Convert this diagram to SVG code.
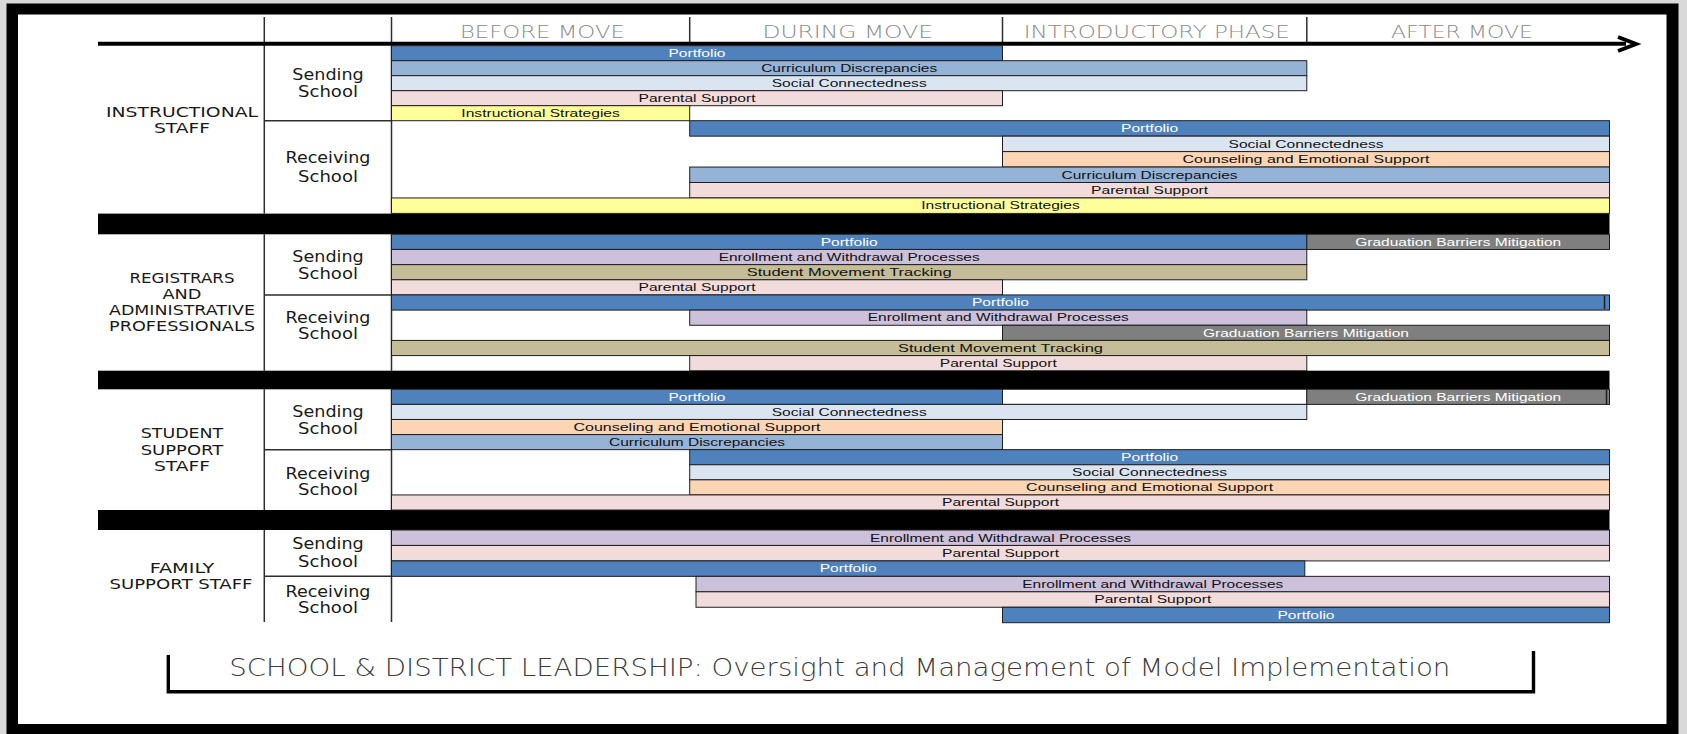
<svg xmlns="http://www.w3.org/2000/svg" width="1687" height="734" viewBox="0 0 1687 734">
<style>
.bar{stroke:#1e1e1e;stroke-width:1}
.pf{fill:#4f81bd}.cd{fill:#95b3d7}.sc{fill:#dbe5f1}.ps{fill:#f2dcdb}.is{fill:#ffff99}.ce{fill:#fcd5b4}.gb{fill:#7f7f7f}.ew{fill:#ccc0da}.sm{fill:#c4bd97}.em{fill:#ffffff}
.t{font-family:"Liberation Sans",Arial,sans-serif;font-size:11.5px;text-anchor:middle;fill:#111}
.w{fill:#ffffff}
.lbl{font-family:"DejaVu Sans","Liberation Sans",sans-serif;font-size:14.5px;text-anchor:middle;fill:#1a1a1a}
.sch{font-size:15px}
.hdr{font-family:"DejaVu Sans","Liberation Sans",sans-serif;font-size:18px;font-weight:200;text-anchor:middle;fill:#8a8a8a}
.foot{font-family:"DejaVu Sans","Liberation Sans",sans-serif;font-size:24px;font-weight:300;fill:#3c3c3c}
.grid{stroke:#2e2e2e;stroke-width:1.5;fill:none}
.band{fill:#000}
</style>
<defs>
<marker id="chev" markerWidth="10" markerHeight="10" refX="8" refY="5" orient="auto" markerUnits="userSpaceOnUse" viewBox="0 0 10 10">
<path d="M0,0 L9,5 L0,10" fill="none" stroke="#000" stroke-width="2.2"/>
</marker>
</defs>
<rect x="0" y="0" width="1687" height="734" fill="#d9d9d9"/>
<rect x="6.5" y="3.5" width="1672" height="731" fill="#000"/>
<rect x="18" y="14.5" width="1648.5" height="709.5" fill="#ffffff"/>

<g id="grid">
<path class="grid" d="M264.3,17V213.6M264.3,234.3V370.7M264.3,389.3V510M264.3,530V622"/>
<path class="grid" d="M391.5,17V213.6M391.5,234.3V370.7M391.5,389.3V510M391.5,530V622"/>
<path class="grid" d="M689.7,17V43M1002.5,17V43M1306.8,17V43"/>
<path class="grid" d="M264.3,120.7H391.5M264.3,294.9H391.5M264.3,449.7H391.5M264.3,576.35H391.5"/>
<rect class="band" x="98" y="213.6" width="1511.5" height="20.7"/>
<rect class="band" x="98" y="370.7" width="1511.5" height="18.6"/>
<rect class="band" x="98" y="510" width="1511.5" height="20"/>
</g>

<g id="connectors">
<line x1="98" y1="43.8" x2="1626" y2="43.8" stroke="#000" stroke-width="4"/>
<path d="M1618,37 L1636,44 L1618,51" fill="none" stroke="#000" stroke-width="4" stroke-linejoin="miter"/>
</g>

<g id="phase-headers">
<text class="hdr" x="542.4" y="38.3" textLength="165" lengthAdjust="spacingAndGlyphs">BEFORE MOVE</text>
<text class="hdr" x="847.7" y="38.3" textLength="170.6" lengthAdjust="spacingAndGlyphs">DURING MOVE</text>
<text class="hdr" x="1156.8" y="38.3" textLength="266" lengthAdjust="spacingAndGlyphs">INTRODUCTORY PHASE</text>
<text class="hdr" x="1461.9" y="38.3" textLength="142" lengthAdjust="spacingAndGlyphs">AFTER MOVE</text>
</g>

<g id="group-instructional">
<text class="lbl" x="182" y="116.7" textLength="152" lengthAdjust="spacingAndGlyphs">INSTRUCTIONAL</text>
<text class="lbl" x="182" y="133.3" textLength="56" lengthAdjust="spacingAndGlyphs">STAFF</text>
</g>
<g id="group-registrars">
<text class="lbl" x="182" y="282.7" textLength="105" lengthAdjust="spacingAndGlyphs">REGISTRARS</text>
<text class="lbl" x="182" y="298.7" textLength="39" lengthAdjust="spacingAndGlyphs">AND</text>
<text class="lbl" x="182" y="314.5" textLength="146" lengthAdjust="spacingAndGlyphs">ADMINISTRATIVE</text>
<text class="lbl" x="182" y="330.7" textLength="146" lengthAdjust="spacingAndGlyphs">PROFESSIONALS</text>
</g>
<g id="group-student-support">
<text class="lbl" x="182" y="438.3" textLength="82.6" lengthAdjust="spacingAndGlyphs">STUDENT</text>
<text class="lbl" x="182" y="455" textLength="82.6" lengthAdjust="spacingAndGlyphs">SUPPORT</text>
<text class="lbl" x="182" y="471" textLength="56" lengthAdjust="spacingAndGlyphs">STAFF</text>
</g>
<g id="group-family-support">
<text class="lbl" x="182" y="573.3" textLength="64.7" lengthAdjust="spacingAndGlyphs">FAMILY</text>
<text class="lbl" x="181" y="589.3" textLength="143" lengthAdjust="spacingAndGlyphs">SUPPORT STAFF</text>
</g>

<g id="s1-sending-label"><text class="lbl sch" x="328" y="80.3" textLength="71.4" lengthAdjust="spacingAndGlyphs">Sending</text><text class="lbl sch" x="328" y="97.3" textLength="60" lengthAdjust="spacingAndGlyphs">School</text></g>
<g id="s1-receiving-label"><text class="lbl sch" x="328" y="162.7" textLength="85" lengthAdjust="spacingAndGlyphs">Receiving</text><text class="lbl sch" x="328" y="181.5" textLength="60" lengthAdjust="spacingAndGlyphs">School</text></g>
<g id="s2-sending-label"><text class="lbl sch" x="328" y="261.7" textLength="71.4" lengthAdjust="spacingAndGlyphs">Sending</text><text class="lbl sch" x="328" y="279.3" textLength="60" lengthAdjust="spacingAndGlyphs">School</text></g>
<g id="s2-receiving-label"><text class="lbl sch" x="328" y="322.7" textLength="85" lengthAdjust="spacingAndGlyphs">Receiving</text><text class="lbl sch" x="328" y="339.3" textLength="60" lengthAdjust="spacingAndGlyphs">School</text></g>
<g id="s3-sending-label"><text class="lbl sch" x="328" y="417" textLength="71.4" lengthAdjust="spacingAndGlyphs">Sending</text><text class="lbl sch" x="328" y="433.7" textLength="60" lengthAdjust="spacingAndGlyphs">School</text></g>
<g id="s3-receiving-label"><text class="lbl sch" x="328" y="478.7" textLength="85" lengthAdjust="spacingAndGlyphs">Receiving</text><text class="lbl sch" x="328" y="495" textLength="60" lengthAdjust="spacingAndGlyphs">School</text></g>
<g id="s4-sending-label"><text class="lbl sch" x="328" y="549.3" textLength="71.4" lengthAdjust="spacingAndGlyphs">Sending</text><text class="lbl sch" x="328" y="566.7" textLength="60" lengthAdjust="spacingAndGlyphs">School</text></g>
<g id="s4-receiving-label"><text class="lbl sch" x="328" y="596.7" textLength="85" lengthAdjust="spacingAndGlyphs">Receiving</text><text class="lbl sch" x="328" y="613.3" textLength="60" lengthAdjust="spacingAndGlyphs">School</text></g>

<!-- Section 1: Instructional staff -->
<g id="s1-send-portfolio"><rect class="bar pf" x="391.5" y="45.7" width="611" height="15"/><text class="t w" x="697" y="57" textLength="57" lengthAdjust="spacingAndGlyphs">Portfolio</text></g>
<g id="s1-send-curriculum"><rect class="bar cd" x="391.5" y="60.7" width="915.3" height="15"/><text class="t" x="849.2" y="72" textLength="176" lengthAdjust="spacingAndGlyphs">Curriculum Discrepancies</text></g>
<g id="s1-send-social"><rect class="bar sc" x="391.5" y="75.7" width="915.3" height="15"/><text class="t" x="849.2" y="87" textLength="155" lengthAdjust="spacingAndGlyphs">Social Connectedness</text></g>
<g id="s1-send-parental"><rect class="bar ps" x="391.5" y="90.7" width="611" height="15"/><text class="t" x="697" y="102" textLength="117" lengthAdjust="spacingAndGlyphs">Parental Support</text></g>
<g id="s1-send-instructional"><rect class="bar is" x="391.5" y="105.7" width="298.2" height="15"/><text class="t" x="540.6" y="117" textLength="158.5" lengthAdjust="spacingAndGlyphs">Instructional Strategies</text></g>
<g id="s1-recv-portfolio"><rect class="bar pf" x="689.7" y="120.7" width="919.8" height="15.45"/><text class="t w" x="1149.6" y="132.2" textLength="57" lengthAdjust="spacingAndGlyphs">Portfolio</text></g>
<g id="s1-recv-social"><rect class="bar sc" x="1002.5" y="136.15" width="607" height="15.45"/><text class="t" x="1306" y="147.6" textLength="155" lengthAdjust="spacingAndGlyphs">Social Connectedness</text></g>
<g id="s1-recv-counseling"><rect class="bar ce" x="1002.5" y="151.6" width="607" height="15.45"/><text class="t" x="1306" y="163.1" textLength="247" lengthAdjust="spacingAndGlyphs">Counseling and Emotional Support</text></g>
<g id="s1-recv-curriculum"><rect class="bar cd" x="689.7" y="167.05" width="919.8" height="15.45"/><text class="t" x="1149.6" y="178.5" textLength="176" lengthAdjust="spacingAndGlyphs">Curriculum Discrepancies</text></g>
<g id="s1-recv-parental"><rect class="bar ps" x="689.7" y="182.5" width="919.8" height="15.45"/><text class="t" x="1149.6" y="194" textLength="117" lengthAdjust="spacingAndGlyphs">Parental Support</text></g>
<g id="s1-recv-instructional"><rect class="bar is" x="391.5" y="197.95" width="1218" height="15.45"/><text class="t" x="1000.5" y="209.4" textLength="158.5" lengthAdjust="spacingAndGlyphs">Instructional Strategies</text></g>

<!-- Section 2: Registrars -->
<g id="s2-send-portfolio"><rect class="bar pf" x="391.5" y="234.3" width="915.3" height="15.16"/><text class="t w" x="849.2" y="245.6" textLength="57" lengthAdjust="spacingAndGlyphs">Portfolio</text></g>
<g id="s2-send-graduation"><rect class="bar gb" x="1306.8" y="234.3" width="302.7" height="15.16"/><text class="t w" x="1458.2" y="245.6" textLength="206" lengthAdjust="spacingAndGlyphs">Graduation Barriers Mitigation</text></g>
<g id="s2-send-enrollment"><rect class="bar ew" x="391.5" y="249.46" width="915.3" height="15.16"/><text class="t" x="849.2" y="260.8" textLength="261" lengthAdjust="spacingAndGlyphs">Enrollment and Withdrawal Processes</text></g>
<g id="s2-send-tracking"><rect class="bar sm" x="391.5" y="264.62" width="915.3" height="15.16"/><text class="t" x="849.2" y="275.9" textLength="205" lengthAdjust="spacingAndGlyphs">Student Movement Tracking</text></g>
<g id="s2-send-parental"><rect class="bar ps" x="391.5" y="279.78" width="611" height="15.16"/><text class="t" x="697" y="291.1" textLength="117" lengthAdjust="spacingAndGlyphs">Parental Support</text></g>
<g id="s2-recv-portfolio"><rect class="bar pf" x="391.5" y="294.94" width="1218" height="15.16"/><line x1="1604.5" y1="295.5" x2="1604.5" y2="309" stroke="#1e1e1e" stroke-width="1.5"/><text class="t w" x="1000.5" y="306.2" textLength="57" lengthAdjust="spacingAndGlyphs">Portfolio</text></g>
<g id="s2-recv-enrollment"><rect class="bar ew" x="689.7" y="310.1" width="617.1" height="15.16"/><text class="t" x="998.3" y="321.4" textLength="261" lengthAdjust="spacingAndGlyphs">Enrollment and Withdrawal Processes</text></g>
<g id="s2-recv-graduation"><rect class="bar gb" x="1002.5" y="325.26" width="607" height="15.16"/><text class="t w" x="1306" y="336.6" textLength="206" lengthAdjust="spacingAndGlyphs">Graduation Barriers Mitigation</text></g>
<g id="s2-recv-tracking"><rect class="bar sm" x="391.5" y="340.42" width="1218" height="15.16"/><text class="t" x="1000.5" y="351.7" textLength="205" lengthAdjust="spacingAndGlyphs">Student Movement Tracking</text></g>
<g id="s2-recv-parental"><rect class="bar ps" x="689.7" y="355.58" width="617.1" height="15.16"/><text class="t" x="998.3" y="366.9" textLength="117" lengthAdjust="spacingAndGlyphs">Parental Support</text></g>

<!-- Section 3: Student support staff -->
<g id="s3-send-portfolio"><rect class="bar pf" x="391.5" y="389.3" width="611" height="15.09"/><text class="t w" x="697" y="400.6" textLength="57" lengthAdjust="spacingAndGlyphs">Portfolio</text></g>
<rect class="bar em" x="1002.5" y="389.3" width="304.3" height="15.09"/>
<g id="s3-send-graduation"><rect class="bar gb" x="1306.8" y="389.3" width="302.7" height="15.09"/><line x1="1606.5" y1="390" x2="1606.5" y2="404" stroke="#1e1e1e" stroke-width="1.5"/><text class="t w" x="1458.2" y="400.6" textLength="206" lengthAdjust="spacingAndGlyphs">Graduation Barriers Mitigation</text></g>
<g id="s3-send-social"><rect class="bar sc" x="391.5" y="404.39" width="915.3" height="15.09"/><text class="t" x="849.2" y="415.7" textLength="155" lengthAdjust="spacingAndGlyphs">Social Connectedness</text></g>
<g id="s3-send-counseling"><rect class="bar ce" x="391.5" y="419.48" width="611" height="15.09"/><text class="t" x="697" y="430.8" textLength="247" lengthAdjust="spacingAndGlyphs">Counseling and Emotional Support</text></g>
<g id="s3-send-curriculum"><rect class="bar cd" x="391.5" y="434.57" width="611" height="15.09"/><text class="t" x="697" y="445.9" textLength="176" lengthAdjust="spacingAndGlyphs">Curriculum Discrepancies</text></g>
<g id="s3-recv-portfolio"><rect class="bar pf" x="689.7" y="449.66" width="919.8" height="15.09"/><text class="t w" x="1149.6" y="461" textLength="57" lengthAdjust="spacingAndGlyphs">Portfolio</text></g>
<g id="s3-recv-social"><rect class="bar sc" x="689.7" y="464.75" width="919.8" height="15.09"/><text class="t" x="1149.6" y="476.1" textLength="155" lengthAdjust="spacingAndGlyphs">Social Connectedness</text></g>
<g id="s3-recv-counseling"><rect class="bar ce" x="689.7" y="479.84" width="919.8" height="15.09"/><text class="t" x="1149.6" y="491.2" textLength="247" lengthAdjust="spacingAndGlyphs">Counseling and Emotional Support</text></g>
<g id="s3-recv-parental"><rect class="bar ps" x="391.5" y="494.93" width="1218" height="15.09"/><text class="t" x="1000.5" y="506.3" textLength="117" lengthAdjust="spacingAndGlyphs">Parental Support</text></g>

<!-- Section 4: Family support staff -->
<g id="s4-send-enrollment"><rect class="bar ew" x="391.5" y="530" width="1218" height="15.45"/><text class="t" x="1000.5" y="541.5" textLength="261" lengthAdjust="spacingAndGlyphs">Enrollment and Withdrawal Processes</text></g>
<g id="s4-send-parental"><rect class="bar ps" x="391.5" y="545.45" width="1218" height="15.45"/><text class="t" x="1000.5" y="556.9" textLength="117" lengthAdjust="spacingAndGlyphs">Parental Support</text></g>
<g id="s4-send-portfolio"><rect class="bar pf" x="391.5" y="560.9" width="913.3" height="15.45"/><text class="t w" x="848.2" y="572.4" textLength="57" lengthAdjust="spacingAndGlyphs">Portfolio</text></g>
<g id="s4-recv-enrollment"><rect class="bar ew" x="696" y="576.35" width="913.5" height="15.45"/><text class="t" x="1152.8" y="587.8" textLength="261" lengthAdjust="spacingAndGlyphs">Enrollment and Withdrawal Processes</text></g>
<g id="s4-recv-parental"><rect class="bar ps" x="696" y="591.8" width="913.5" height="15.45"/><text class="t" x="1152.8" y="603.3" textLength="117" lengthAdjust="spacingAndGlyphs">Parental Support</text></g>
<g id="s4-recv-portfolio"><rect class="bar pf" x="1002.5" y="607.25" width="607" height="15.45"/><text class="t w" x="1306" y="618.7" textLength="57" lengthAdjust="spacingAndGlyphs">Portfolio</text></g>

<g id="leadership">
<path d="M168.3,655V691.8H1533.5V651" fill="none" stroke="#000" stroke-width="3.4"/>
<text class="foot" x="229.3" y="676" textLength="1221" lengthAdjust="spacingAndGlyphs">SCHOOL &amp; DISTRICT LEADERSHIP: Oversight and Management of Model Implementation</text>
</g>
</svg>
